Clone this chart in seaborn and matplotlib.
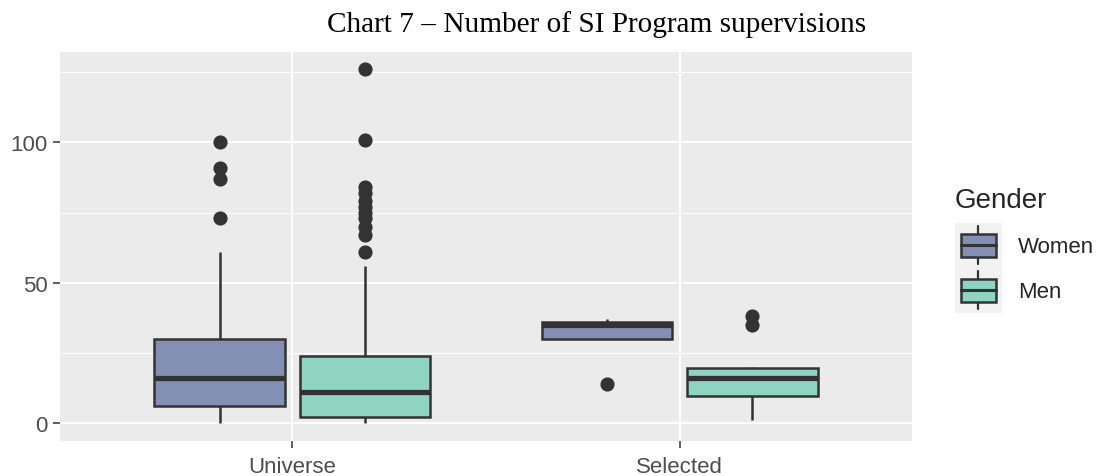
import numpy as np
import pandas as pd
import matplotlib
matplotlib.use("Agg")
import matplotlib.pyplot as plt
import seaborn as sns
from matplotlib.legend_handler import HandlerBase
from matplotlib.patches import Rectangle, Patch
from matplotlib.lines import Line2D

# ---------------- data ----------------
categories = ["Universe", "Selected"]
genders = ["Women", "Men"]

universe_women = [0, 1, 3, 4, 5, 6, 8, 10, 12, 14, 16, 18, 20, 23, 26, 30,
                  61, 73, 87, 91, 100]
universe_men = [0, 0, 0, 0, 0, 1, 1, 1, 1, 2, 2, 2,
                2,
                3, 3, 4, 5, 5, 6, 7, 8, 9, 10, 10,
                11,
                12, 13, 14, 15, 16, 17, 18, 19, 20, 22, 23,
                24,
                56, 61, 67, 70, 73, 75, 77, 79, 82, 84, 101, 126]
selected_women = [14, 30, 35, 36, 37]
selected_men = [1, 4, 7, 9.5, 11, 14, 16, 17, 18, 19.5, 20, 35, 38]

y_ticks = [0, 50, 100]
y_minor = [25, 75, 125]

title_text = "Chart 7 \u2013 Number of SI Program supervisions"
legend_title = "Gender"

# ---------------- styles ----------------
WOMEN_COLOR = "#8390B3"
MEN_COLOR = "#8FD3C1"
EDGE = "#333333"
PANEL = "#EBEBEB"

rows = []
for cat, g, vals in [("Universe", "Women", universe_women),
                     ("Universe", "Men", universe_men),
                     ("Selected", "Women", selected_women),
                     ("Selected", "Men", selected_men)]:
    for v in vals:
        rows.append({"Group": cat, "Gender": g, "Value": v})
df = pd.DataFrame(rows)

sns.set_theme(style="white")
plt.rcParams["font.family"] = ["Liberation Sans", "DejaVu Sans"]

fig = plt.figure(figsize=(11, 4.77), dpi=100)
ax = fig.add_axes([60 / 1100, 1 - 442 / 477, (912 - 60) / 1100, (442 - 53) / 477])
ax.set_facecolor(PANEL)

sns.boxplot(data=df, x="Group", y="Value", hue="Gender",
            order=categories, hue_order=genders,
            palette=[WOMEN_COLOR, MEN_COLOR],
            width=0.75, gap=0.1, whis=1.5, saturation=1,
            linecolor=EDGE, linewidth=1.8, fliersize=9.2,
            flierprops=dict(marker="o", markerfacecolor=EDGE, markeredgecolor=EDGE),
            medianprops=dict(color=EDGE, linewidth=3.8),
            capprops=dict(linewidth=0),
            ax=ax, legend=False, zorder=3)

ax.set_xlim(-0.6, 1.6)
ax.set_ylim(-6.4, 132.2)
ax.set_yticks(y_ticks)
ax.set_yticks(y_minor, minor=True)
ax.set_yticklabels([str(t) for t in y_ticks])
ax.grid(True, which="major", color="white", linewidth=1.5, zorder=0)
ax.grid(True, which="minor", axis="y", color="white", linewidth=0.75, zorder=0)
ax.set_axisbelow(True)
for s in ax.spines.values():
    s.set_visible(False)
ax.tick_params(axis="both", which="major", length=5, width=1.1, color=EDGE,
               labelsize=16, labelcolor="#4D4D4D", pad=4, left=True, bottom=True)
ax.tick_params(axis="x", which="major", pad=6)
ax.tick_params(axis="both", which="minor", length=0)
ax.set_xlabel("")
ax.set_ylabel("")


class BoxKeyHandler(HandlerBase):
    def create_artists(self, legend, orig_handle, xdescent, ydescent,
                       width, height, fontsize, trans):
        x0, y0 = -xdescent, -ydescent
        bg = Rectangle((x0, y0), width, height, facecolor="#F2F2F2",
                       edgecolor="none", transform=trans)
        cx = x0 + width / 2
        whisk = Line2D([cx, cx], [y0 + 0.08 * height, y0 + 0.92 * height],
                       color=EDGE, lw=1.6, transform=trans)
        bw, bh = width * 0.74, height * 0.52
        box = Rectangle((cx - bw / 2, y0 + (height - bh) / 2), bw, bh,
                        facecolor=orig_handle.get_facecolor(), edgecolor=EDGE,
                        lw=1.8, transform=trans)
        med = Line2D([cx - bw / 2, cx + bw / 2], [y0 + height / 2] * 2,
                     color=EDGE, lw=2.2, transform=trans)
        return [bg, whisk, box, med]


handles = [Patch(facecolor=WOMEN_COLOR), Patch(facecolor=MEN_COLOR)]
leg = fig.legend(handles, genders, title=legend_title,
                 loc="upper left", bbox_to_anchor=(955 / 1100, 1 - 188 / 477),
                 frameon=False, fontsize=16, title_fontsize=20,
                 handlelength=2.1, handleheight=2.74, labelspacing=0,
                 handletextpad=0.73, borderpad=0, borderaxespad=0,
                 alignment="left",
                 handler_map={Patch: BoxKeyHandler()})
leg._legend_box.sep = 7

fig.text(597 / 1100, 1 - 25 / 477, title_text, ha="center", va="center",
         family=["Liberation Serif", "DejaVu Serif"], fontsize=21.1, color="black")

fig.savefig("out.png", dpi=100, facecolor="white")
